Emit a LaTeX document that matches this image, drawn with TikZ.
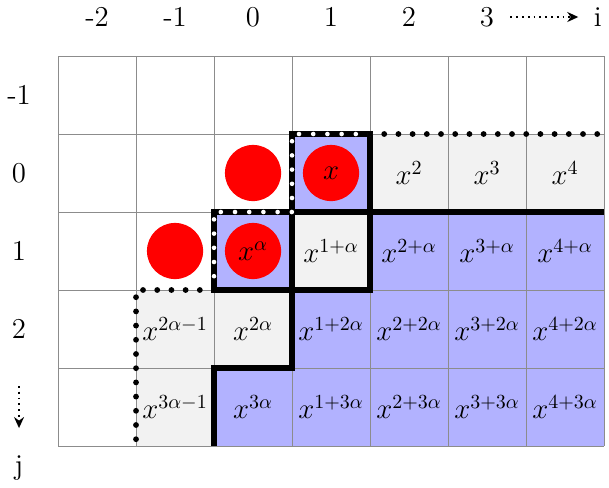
\documentclass[tikz,border=0pt]{standalone}
\usetikzlibrary{arrows.meta}

\begin{document}
\begin{tikzpicture}[x=39pt,y=-39pt,
  lbl/.style={font=\Large},
  gridline/.style={black!45, line width=0.5pt},
  thickline/.style={line width=3pt},
  dots/.style={line width=2.9pt, line cap=round, dash pattern=on 0pt off 7.1pt},
  whitedots/.style={dots, white, line width=2.3pt},
  axisarrow/.style={dotted, line width=0.9pt, -{Stealth[length=5.5pt, width=5pt]}}]
\useasboundingbox (-3.244,-2.218) rectangle (4.564,4.026);
\fill[gray!10] (1.5,-0.5) rectangle (4.5,0.5);
\fill[gray!10] (0.5,0.5) rectangle (1.5,1.5);
\fill[gray!10] (-1.5,1.5) rectangle (0.5,2.5);
\fill[gray!10] (-1.5,2.5) rectangle (-0.5,3.5);
\fill[blue!30] (0.5,-0.5) rectangle (1.5,0.5);
\fill[blue!30] (-0.5,0.5) rectangle (0.5,1.5);
\fill[blue!30] (4.5,0.5) -- (1.5,0.5) -- (1.5,1.5) -- (0.5,1.5) -- (0.5,2.5) -- (-0.5,2.5) -- (-0.5,3.5) -- (4.5,3.5) -- cycle;
\foreach \i in {-2.5,...,4.5} \draw[gridline] (\i,-1.5) -- (\i,3.5);
\foreach \j in {-1.5,...,3.5} \draw[gridline] (-2.5,\j) -- (4.5,\j);
\fill[red] (0,0) circle (0.36);
\fill[red] (1,0) circle (0.36);
\fill[red] (-1,1) circle (0.36);
\fill[red] (0,1) circle (0.36);
\node[lbl] (x10) at (1,0) {$x$};
\foreach \i in {2,3,4} \node[lbl] (x\i0) at (\i,0) {$x^{\i}$};
\node[lbl] (x01) at (0,1) {$x^{\alpha}$};
\node[lbl] (x11) at (1,1) {$x^{1+\alpha}$};
\foreach \i in {2,3,4} \node[lbl] (x\i1) at (\i,1) {$x^{\i+\alpha}$};
\node[lbl] (xm12) at (-1,2) {$x^{2\alpha-1}$};
\node[lbl] (x02) at (0,2) {$x^{2\alpha}$};
\foreach \i in {1,...,4} \node[lbl] (x\i2) at (\i,2) {$x^{\i+2\alpha}$};
\node[lbl] (xm13) at (-1,3) {$x^{3\alpha-1}$};
\node[lbl] (x03) at (0,3) {$x^{3\alpha}$};
\foreach \i in {1,...,4} \node[lbl] (x\i3) at (\i,3) {$x^{\i+3\alpha}$};
\draw[thickline] (-0.5,3.5) -- (-0.5,2.5) -- (0.5,2.5) -- (0.5,-0.5) -- (1.5,-0.5) -- (1.5,1.5) -- (-0.5,1.5) -- (-0.5,0.5) -- (4.5,0.5);
\draw[whitedots] (1.5,-0.5) -- (0.5,-0.5) -- (0.5,0.5) -- (-0.5,0.5) -- (-0.5,1.5);
\draw[dots] (1.5,-0.5) -- (4.5,-0.5);
\draw[dots] (-0.5,1.5) -- (-1.5,1.5) -- (-1.5,3.5);
\foreach \i in {-2,...,3} \node[lbl] (col\i) at (\i,-2) {\i};
\foreach \j in {-1,...,2} \node[lbl] (row\j) at (-3,\j) {\j};
\node[lbl] (ilbl) at (4.42,-2) {i};
\node[lbl] (jlbl) at (-3,3.78) {j};
\coordinate (istart) at (3.3,-2);
\coordinate (iend) at (4.17,-2);
\coordinate (jstart) at (-3,2.73);
\coordinate (jend) at (-3,3.27);
\draw[axisarrow] (istart) -- (iend);
\draw[axisarrow] (jstart) -- (jend);
\end{tikzpicture}
\end{document}
